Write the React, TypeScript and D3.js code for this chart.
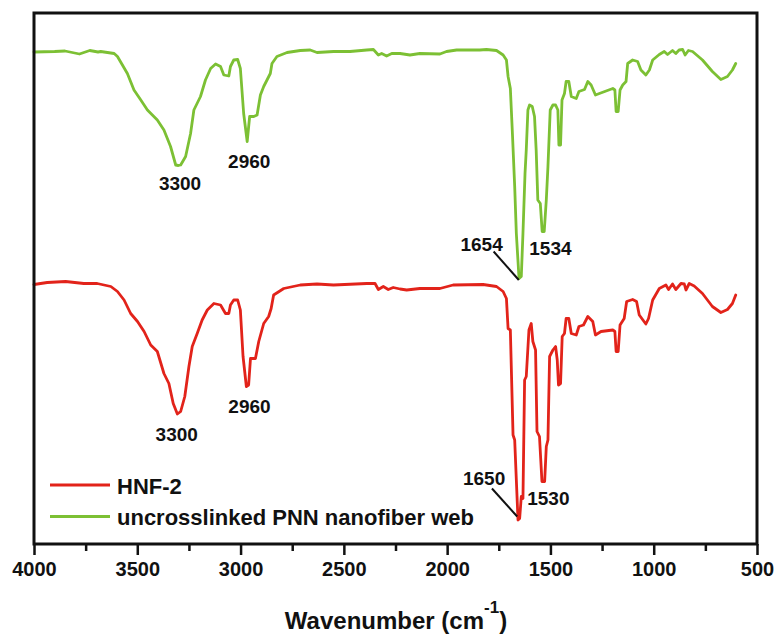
import { useEffect, useRef } from 'react'
import * as d3 from 'd3'

// [wavenumber cm-1, transmittance (arb. units)]
const pnnSpectrum: [number, number][] = [
  [4000, 98.2], [3900, 98.3], [3850, 98.4], [3780, 97.8], [3730, 98.5], [3690, 98.2], [3677, 98.3],
  [3612, 97.9], [3596, 97.3], [3548, 93.9], [3516, 90.6], [3483, 88.6], [3451, 86.6], [3403, 84.6],
  [3371, 82.6], [3339, 79.3], [3314, 75.6], [3301, 75.5], [3290, 75.6], [3266, 77.3], [3242, 81.9],
  [3226, 86.6], [3194, 89.3], [3170, 92.6], [3145, 94.9], [3121, 95.8], [3097, 95.3], [3081, 93.6],
  [3057, 93.4], [3049, 95.3], [3033, 96.6], [3014, 96.7], [3001, 94.9], [2985, 85.9], [2968, 80.3],
  [2956, 85.3], [2936, 85.3], [2920, 85.6], [2904, 89.6], [2888, 91.3], [2872, 92.6], [2856, 93.9],
  [2848, 95.9], [2824, 97.3], [2775, 98.1], [2711, 98.5], [2663, 98.6], [2630, 98.1], [2550, 98.3],
  [2470, 98.3], [2389, 98.6], [2357, 98.7], [2333, 97.6], [2317, 97.9], [2293, 97.4], [2268, 97.9],
  [2228, 97.9], [2180, 97.6], [2132, 97.9], [2035, 97.8], [2003, 98.3], [1954, 98.6], [1842, 98.6],
  [1810, 98.7], [1761, 98.5], [1729, 97.6], [1713, 96.6], [1705, 93.3], [1694, 90.9], [1684, 81.9],
  [1673, 71.3], [1665, 61.9], [1652, 52.9], [1641, 53.3], [1633, 61.9], [1623, 73.9], [1617, 78.6],
  [1609, 86.6], [1601, 87.6], [1588, 87.3], [1577, 85.3], [1569, 78.6], [1561, 68.6], [1549, 67.9],
  [1540, 62.3], [1530, 62.3], [1520, 68.6], [1512, 75.3], [1501, 86.6], [1488, 87.6], [1475, 87.6],
  [1464, 86.6], [1459, 79.6], [1451, 79.6], [1444, 88.6], [1432, 89.9], [1424, 92.3], [1411, 92.3],
  [1399, 89.3], [1375, 88.9], [1362, 90.3], [1335, 90.7], [1319, 92.3], [1303, 91.6], [1282, 89.6],
  [1263, 89.9], [1198, 90.9], [1188, 90.6], [1182, 86.3], [1172, 86.3], [1163, 90.6], [1150, 91.6],
  [1134, 92.3], [1126, 95.9], [1102, 96.6], [1078, 96.3], [1062, 94.6], [1038, 93.6], [1021, 94.6],
  [1005, 96.6], [973, 97.7], [949, 98.3], [933, 97.7], [909, 98.5], [893, 97.9], [877, 98.6],
  [860, 98.7], [848, 97.6], [832, 98.5], [812, 98.3], [764, 96.6], [716, 94.3], [675, 92.7],
  [643, 93.3], [619, 94.6], [603, 95.9],
]

const hnfSpectrum: [number, number][] = [
  [4000, 51.7], [3936, 52.1], [3847, 52.3], [3759, 51.9], [3694, 51.9], [3628, 51.3], [3596, 50.3],
  [3564, 48.6], [3532, 45.9], [3499, 44.3], [3467, 42.3], [3435, 39.6], [3403, 38.3], [3371, 33.9],
  [3347, 31.9], [3326, 27.9], [3306, 25.8], [3290, 26.3], [3270, 29.3], [3250, 35.3], [3234, 39.3],
  [3210, 41.9], [3186, 44.6], [3161, 46.6], [3129, 47.9], [3097, 47.6], [3073, 45.9], [3057, 45.9],
  [3049, 47.6], [3033, 48.6], [3014, 48.6], [3001, 46.6], [2988, 37.3], [2972, 31.3], [2961, 31.6],
  [2952, 36.9], [2928, 36.9], [2912, 40.3], [2888, 43.9], [2864, 45.3], [2852, 46.9], [2840, 49.6],
  [2791, 50.9], [2711, 51.6], [2630, 51.8], [2550, 51.6], [2389, 51.9], [2349, 51.9], [2333, 50.7],
  [2309, 51.3], [2285, 50.7], [2261, 51.1], [2228, 50.8], [2196, 50.6], [2132, 50.9], [2035, 50.9],
  [1971, 51.6], [1826, 51.7], [1761, 51.3], [1729, 50.3], [1713, 48.9], [1705, 42.9], [1694, 42.6],
  [1681, 21.6], [1673, 20.6], [1665, 12.6], [1657, 4.6], [1649, 4.9], [1641, 9.3], [1633, 8.9],
  [1625, 32.6], [1617, 33.3], [1604, 42.6], [1593, 43.9], [1585, 40.3], [1572, 38.6], [1565, 22.3],
  [1553, 21.3], [1541, 12.3], [1528, 12.3], [1520, 19.3], [1512, 20.6], [1504, 37.3], [1488, 38.6],
  [1475, 39.3], [1467, 36.6], [1461, 31.6], [1451, 31.9], [1443, 41.3], [1432, 41.9], [1424, 44.9],
  [1411, 44.9], [1399, 41.9], [1375, 41.6], [1362, 43.3], [1340, 43.6], [1319, 45.3], [1295, 44.3],
  [1282, 41.6], [1255, 42.3], [1198, 42.6], [1188, 42.3], [1182, 38.3], [1172, 38.3], [1163, 43.6],
  [1143, 44.9], [1131, 48.3], [1102, 48.7], [1083, 48.3], [1070, 45.6], [1038, 43.8], [1025, 44.9],
  [1005, 48.6], [973, 50.9], [941, 51.6], [928, 50.7], [909, 51.8], [893, 50.7], [868, 51.9],
  [852, 51.8], [844, 50.6], [828, 51.9], [804, 51.4], [764, 49.9], [716, 47.3], [675, 46.1],
  [643, 46.7], [619, 47.9], [603, 49.6],
]

const majorTicks = [4000, 3500, 3000, 2500, 2000, 1500, 1000, 500]
const minorTicks = [3750, 3250, 2750, 2250, 1750, 1250, 750]

const seriesNames = ['HNF-2', 'uncrosslinked PNN nanofiber web']
const seriesColors = ['#e2231a', '#7cc034']

// peak labels: text, label anchor [wn, T]
const peakLabels: [string, number, number][] = [
  ['3300', 3293, 70.6], ['2960', 2958, 75.1], ['1654', 1833, 58.5], ['1534', 1500, 57.6],
  ['3300', 3309, 20.5], ['2960', 2957, 26.1], ['1650', 1821, 11.6], ['1530', 1510, 7.7],
]
// leader lines [wn1, T1, wn2, T2]
const leaders: [number, number, number, number][] = [
  [1775, 58.3, 1653, 52.6],
  [1783, 10.9, 1661, 5.3],
]

const W = 778, H = 641
const FONT = '"Liberation Sans", Arial, sans-serif'

export default function App() {
  const svgRef = useRef<SVGSVGElement>(null)

  useEffect(() => {
    const svg = d3.select(svgRef.current)
    svg.selectAll('*').remove()

    const left = 34, right = 757, top = 13, bottom = 544
    const x = d3.scaleLinear().domain([4000, 500]).range([left, right])
    const y = d3.scaleLinear().domain([0, 106]).range([543, 13])

    const line = d3.line<[number, number]>().x(d => x(d[0])).y(d => y(d[1]))

    ;[hnfSpectrum, pnnSpectrum].forEach((s, i) => {
      svg.append('path').attr('d', line(s)).attr('fill', 'none')
        .attr('stroke', seriesColors[i]).attr('stroke-width', 2.8)
        .attr('stroke-linejoin', 'round').attr('stroke-linecap', 'round')
    })

    // frame
    svg.append('rect').attr('x', left).attr('y', top).attr('width', right - left).attr('height', bottom - top)
      .attr('fill', 'none').attr('stroke', '#111').attr('stroke-width', 3)

    // x axis ticks
    const g = svg.append('g').attr('transform', `translate(0,${bottom})`)
    g.call(d3.axisBottom(x).tickValues(majorTicks).tickSize(11).tickPadding(7).tickFormat(d3.format('d')))
      .call(gg => {
        gg.select('.domain').remove()
        gg.selectAll('.tick line').attr('stroke', '#111').attr('stroke-width', 2.5)
        gg.selectAll('.tick text').attr('fill', '#111').attr('font-size', '20px')
          .attr('font-weight', 'bold').attr('font-family', FONT)
      })
    svg.append('g').attr('transform', `translate(0,${bottom})`)
      .call(d3.axisBottom(x).tickValues(minorTicks).tickSize(7).tickFormat(() => ''))
      .call(gg => {
        gg.select('.domain').remove()
        gg.selectAll('.tick line').attr('stroke', '#111').attr('stroke-width', 2.5)
      })

    // axis title
    const title = svg.append('text').attr('x', 396).attr('y', 629).attr('text-anchor', 'middle')
      .attr('font-family', FONT).attr('font-weight', 'bold').attr('font-size', '24px').attr('fill', '#111')
    title.append('tspan').text('Wavenumber (cm')
    title.append('tspan').attr('dy', -16).attr('font-size', '17px').text('-1')
    title.append('tspan').attr('dy', 16).text(')')

    // peak labels
    svg.append('g').selectAll('text').data(peakLabels).join('text')
      .attr('x', d => x(d[1])).attr('y', d => y(d[2])).attr('text-anchor', 'middle')
      .attr('font-family', FONT).attr('font-weight', 'bold').attr('font-size', '19px').attr('fill', '#111')
      .text(d => d[0])

    svg.append('g').selectAll('line').data(leaders).join('line')
      .attr('x1', d => x(d[0])).attr('y1', d => y(d[1])).attr('x2', d => x(d[2])).attr('y2', d => y(d[3]))
      .attr('stroke', '#111').attr('stroke-width', 2)

    // legend
    const lg = svg.append('g')
    seriesNames.forEach((name, i) => {
      const ly = 485 + i * 31.5
      lg.append('line').attr('x1', 50).attr('x2', 110).attr('y1', ly).attr('y2', ly)
        .attr('stroke', seriesColors[i]).attr('stroke-width', 3)
      lg.append('text').attr('x', 117).attr('y', ly + 8.5).text(name)
        .attr('font-family', FONT).attr('font-weight', 'bold').attr('font-size', '22px').attr('fill', '#111')
    })
  }, [])

  return (
    <svg ref={svgRef} width={W} height={H}
      style={{ position: 'absolute', left: 0, top: 0, background: '#fff', display: 'block' }} />
  )
}
